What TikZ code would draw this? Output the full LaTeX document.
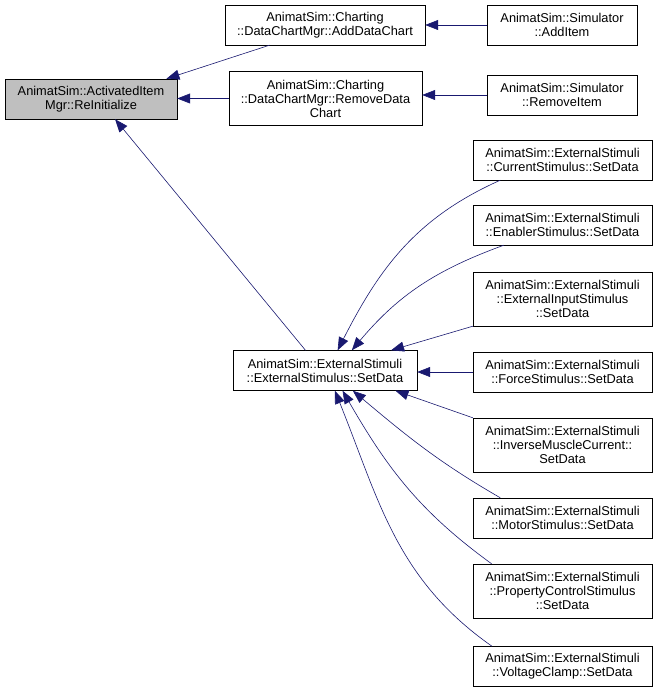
\documentclass[tikz,border=0pt]{standalone}
\usepackage{fontspec}
\setmainfont{Liberation Sans}
\usetikzlibrary{arrows.meta}
\definecolor{edge}{HTML}{191970}
\definecolor{rootgray}{HTML}{BFBFBF}

\begin{document}
\begin{tikzpicture}[x=1pt, y=-1pt,
      box/.style={draw=black, fill=white, align=center, inner sep=0pt,
                  font=\fontsize{12.8}{14}\selectfont, minimum height=40pt},
      tall/.style={box, minimum height=54pt},
      arr/.style={-{Triangle[length=13pt, width=10pt]}, edge, semithick}]
    \useasboundingbox (0,0) rectangle (657,692);
    % left part
    \node[box, fill=rootgray, minimum width=172pt] (reinit) at (91,99) {AnimatSim::ActivatedItem\\Mgr::ReInitialize};
    \node[box, minimum width=200pt] (addchart) at (325,25) {AnimatSim::Charting\\::DataChartMgr::AddDataChart};
    \node[tall, minimum width=193pt] (removechart) at (325.5,98.5) {AnimatSim::Charting\\::DataChartMgr::RemoveData\\Chart};
    \node[box, minimum width=150pt] (additem) at (562,25) {AnimatSim::Simulator\\::AddItem};
    \node[box, minimum width=150pt] (removeitem) at (562,95) {AnimatSim::Simulator\\::RemoveItem};
    \node[box, minimum width=184pt] (extset) at (325,370.5) {AnimatSim::ExternalStimuli\\::ExternalStimulus::SetData};
    % right column
    \node[box, minimum width=179pt] (current) at (562.5,160) {AnimatSim::ExternalStimuli\\::CurrentStimulus::SetData};
    \node[box, minimum width=179pt] (enabler) at (562.5,225) {AnimatSim::ExternalStimuli\\::EnablerStimulus::SetData};
    \node[tall, minimum width=179pt] (extinput) at (562.5,299) {AnimatSim::ExternalStimuli\\::ExternalInputStimulus\\::SetData};
    \node[box, minimum width=179pt] (force) at (562.5,372) {AnimatSim::ExternalStimuli\\::ForceStimulus::SetData};
    \node[tall, minimum width=179pt] (inverse) at (562.5,445) {AnimatSim::ExternalStimuli\\::InverseMuscleCurrent::\\SetData};
    \node[box, minimum width=179pt] (motor) at (562.5,518) {AnimatSim::ExternalStimuli\\::MotorStimulus::SetData};
    \node[tall, minimum width=179pt] (property) at (562.5,591) {AnimatSim::ExternalStimuli\\::PropertyControlStimulus\\::SetData};
    \node[box, minimum width=179pt] (voltage) at (562.5,666.5) {AnimatSim::ExternalStimuli\\::VoltageClamp::SetData};
    % callers
    \draw[arr] (addchart.200) -- (reinit.15);
    \draw[arr] (removechart.west) -- (reinit.east |- removechart.west);
    \draw[arr] (extset.134) -- (reinit.320);
    \draw[arr] (additem.west) -- (addchart.east);
    \draw[arr] (removeitem.west) -- (removechart.east |- removeitem.west);
    \draw[arr] (current.198) to[out=204, in=63] (extset.58);
    \draw[arr] (enabler.199) to[out=200, in=50] (extset.37);
    \draw[arr] (extinput.south west) -- (extset.17);
    \draw[arr] (force.west) -- (extset.east |- force.west);
    \draw[arr] (inverse.north west) -- (extset.344);
    \draw[arr] (motor.162) to[out=150, in=-40] (extset.324);
    \draw[arr] (property.159) to[out=144, in=-60] (extset.311);
    \draw[arr] (voltage.164) to[out=145, in=-68] (extset.296);
  \end{tikzpicture}
\end{document}
